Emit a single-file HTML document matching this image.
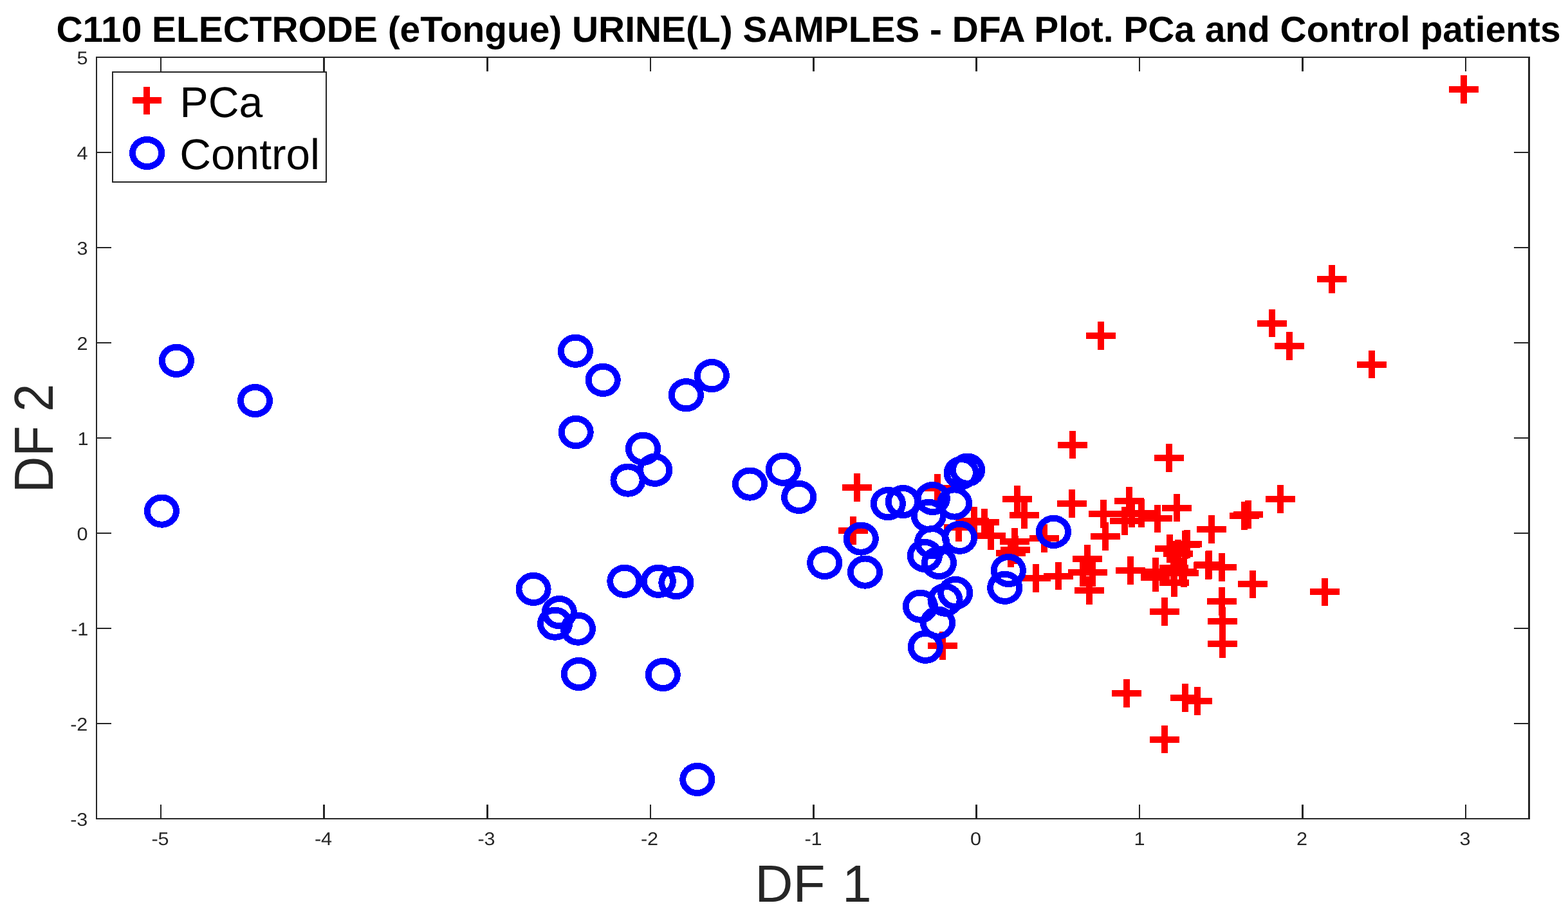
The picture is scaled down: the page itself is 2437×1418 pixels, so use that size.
<!DOCTYPE html>
<html lang="en"><head><meta charset="utf-8"><title>C110 ELECTRODE (eTongue) URINE(L) SAMPLES - DFA Plot</title>
<style>
html,body{margin:0;padding:0;background:#fff;}
body{width:2437px;height:1418px;overflow:hidden;}
svg{display:block;}
text{font-family:"Liberation Sans",Arial,Helvetica,sans-serif;text-rendering:geometricPrecision;}
.tk{font-size:28.6px;fill:#262626;}
.ttl{font-size:56.4px;font-weight:bold;fill:#000;}
.lab{font-size:81.25px;fill:#262626;}
.leg{font-size:66.9px;fill:#000;}
.pl{fill:#ff0000;}
.ci{fill:none;stroke:#0000ff;stroke-width:9.9;}
.ax{fill:#262626;}
</style></head><body>
<svg width="2437" height="1418" viewBox="0 0 2437 1418">
<rect x="0" y="0" width="2437" height="1418" fill="#fff"/>
<text class="ttl" transform="translate(87.5 64.8) scale(1.0085 1)">C110 ELECTRODE (eTongue) URINE(L) SAMPLES - DFA Plot. PCa and Control patients</text>
<g class="ax" shape-rendering="crispEdges">
<rect x="149" y="88" width="2229" height="2"/>
<rect x="149" y="1272" width="2229" height="2"/>
<rect x="149" y="88" width="2" height="1186"/>
<rect x="2375" y="88" width="3" height="1186"/>
<rect x="249" y="90" width="2" height="21"/><rect x="249" y="1251" width="2" height="21"/>
<rect x="502" y="90" width="3" height="21"/><rect x="502" y="1251" width="3" height="21"/>
<rect x="756" y="90" width="3" height="21"/><rect x="756" y="1251" width="3" height="21"/>
<rect x="1010" y="90" width="2" height="21"/><rect x="1010" y="1251" width="2" height="21"/>
<rect x="1263" y="90" width="3" height="21"/><rect x="1263" y="1251" width="3" height="21"/>
<rect x="1516" y="90" width="3" height="21"/><rect x="1516" y="1251" width="3" height="21"/>
<rect x="1770" y="90" width="2" height="21"/><rect x="1770" y="1251" width="2" height="21"/>
<rect x="2023" y="90" width="3" height="21"/><rect x="2023" y="1251" width="3" height="21"/>
<rect x="2277" y="90" width="2" height="21"/><rect x="2277" y="1251" width="2" height="21"/>
<rect x="151" y="1124" width="22" height="2"/><rect x="2353" y="1124" width="22" height="2"/>
<rect x="151" y="976" width="22" height="2"/><rect x="2353" y="976" width="22" height="2"/>
<rect x="151" y="828" width="22" height="2"/><rect x="2353" y="828" width="22" height="2"/>
<rect x="151" y="680" width="22" height="2"/><rect x="2353" y="680" width="22" height="2"/>
<rect x="151" y="532" width="22" height="2"/><rect x="2353" y="532" width="22" height="2"/>
<rect x="151" y="384" width="22" height="2"/><rect x="2353" y="384" width="22" height="2"/>
<rect x="151" y="236" width="22" height="2"/><rect x="2353" y="236" width="22" height="2"/>
</g>
<g class="pl" shape-rendering="crispEdges">
<path d="M2252 134h46v10h-46zM2270 117h10v44h-10z"/>
<path d="M2047 429h46v10h-46zM2065 412h10v44h-10z"/>
<path d="M1954 498h46v10h-46zM1972 481h10v43h-10z"/>
<path d="M1981 533h46v10h-46zM1999 516h10v44h-10z"/>
<path d="M2109 562h46v10h-46zM2127 545h10v43h-10z"/>
<path d="M1688 517h46v10h-46zM1706 500h10v44h-10z"/>
<path d="M1644 687h46v10h-46zM1662 670h10v43h-10z"/>
<path d="M1794 707h46v10h-46zM1812 690h10v44h-10z"/>
<path d="M1309 753h46v10h-46zM1327 736h10v44h-10z"/>
<path d="M1303 820h46v10h-46zM1321 803h10v44h-10z"/>
<path d="M1434 754h46v10h-46zM1452 737h10v44h-10z"/>
<path d="M1558 771h46v10h-46zM1576 755h10v43h-10z"/>
<path d="M1569 796h46v10h-46zM1587 779h10v43h-10z"/>
<path d="M1643 778h46v10h-46zM1661 761h10v44h-10z"/>
<path d="M1491 805h46v10h-46zM1509 788h10v44h-10z"/>
<path d="M1507 807h46v10h-46zM1525 791h10v43h-10z"/>
<path d="M1467 815h46v10h-46zM1485 799h10v43h-10z"/>
<path d="M1517 828h46v10h-46zM1535 811h10v44h-10z"/>
<path d="M1554 837h46v10h-46zM1572 821h10v43h-10z"/>
<path d="M1555 850h46v10h-46zM1573 833h10v44h-10z"/>
<path d="M1548 855h46v10h-46zM1566 838h10v44h-10z"/>
<path d="M1600 832h46v10h-46zM1618 815h10v44h-10z"/>
<path d="M1442 999h46v10h-46zM1460 982h10v44h-10z"/>
<path d="M1587 894h46v10h-46zM1605 877h10v44h-10z"/>
<path d="M1622 891h46v10h-46zM1640 874h10v43h-10z"/>
<path d="M1692 794h46v10h-46zM1710 777h10v44h-10z"/>
<path d="M1732 774h46v10h-46zM1750 757h10v44h-10z"/>
<path d="M1751 793h46v10h-46zM1769 776h10v44h-10z"/>
<path d="M1736 794h46v10h-46zM1754 777h10v43h-10z"/>
<path d="M1725 805h46v10h-46zM1743 788h10v44h-10z"/>
<path d="M1776 801h46v10h-46zM1794 785h10v43h-10z"/>
<path d="M1806 785h46v10h-46zM1824 768h10v43h-10z"/>
<path d="M1695 829h46v10h-46zM1713 812h10v44h-10z"/>
<path d="M1860 818h46v10h-46zM1878 801h10v44h-10z"/>
<path d="M1911 797h46v10h-46zM1929 780h10v44h-10z"/>
<path d="M1917 795h46v10h-46zM1935 778h10v44h-10z"/>
<path d="M1967 771h46v10h-46zM1985 754h10v44h-10z"/>
<path d="M1667 864h46v10h-46zM1685 847h10v44h-10z"/>
<path d="M1660 885h46v10h-46zM1678 868h10v44h-10z"/>
<path d="M1676 885h45v10h-45zM1693 868h10v44h-10z"/>
<path d="M1670 913h46v10h-46zM1688 896h10v44h-10z"/>
<path d="M1734 882h46v10h-46zM1752 865h10v44h-10z"/>
<path d="M1773 884h46v10h-46zM1791 867h10v44h-10z"/>
<path d="M1773 893h45v10h-45zM1791 876h10v44h-10z"/>
<path d="M1795 848h46v10h-46zM1813 831h10v44h-10z"/>
<path d="M1823 841h45v10h-45zM1840 824h10v44h-10z"/>
<path d="M1820 842h45v10h-45zM1837 825h10v44h-10z"/>
<path d="M1808 856h46v10h-46zM1826 839h10v44h-10z"/>
<path d="M1802 878h45v10h-45zM1819 861h10v44h-10z"/>
<path d="M1814 884h46v10h-46zM1832 867h10v44h-10z"/>
<path d="M1817 886h46v10h-46zM1835 869h10v44h-10z"/>
<path d="M1802 901h46v10h-46zM1820 884h10v44h-10z"/>
<path d="M1855 874h46v10h-46zM1873 857h10v44h-10z"/>
<path d="M1856 873h46v10h-46zM1874 856h10v44h-10z"/>
<path d="M1876 877h46v10h-46zM1894 860h10v44h-10z"/>
<path d="M1924 903h46v10h-46zM1942 887h10v43h-10z"/>
<path d="M1876 930h46v10h-46zM1894 913h10v44h-10z"/>
<path d="M1877 961h46v10h-46zM1895 944h10v44h-10z"/>
<path d="M1877 996h46v10h-46zM1895 979h10v44h-10z"/>
<path d="M1787 946h46v10h-46zM1805 929h10v44h-10z"/>
<path d="M2036 915h46v10h-46zM2054 899h10v43h-10z"/>
<path d="M1728 1073h46v10h-46zM1746 1056h10v44h-10z"/>
<path d="M1819 1080h46v10h-46zM1837 1063h10v44h-10z"/>
<path d="M1838 1085h46v10h-46zM1856 1068h10v44h-10z"/>
<path d="M1787 1145h46v10h-46zM1805 1128h10v43h-10z"/>
</g>
<g class="ci" shape-rendering="crispEdges">
<ellipse cx="274.4" cy="560.9" rx="22.6" ry="21.1"/>
<ellipse cx="396.5" cy="623.0" rx="22.6" ry="21.1"/>
<ellipse cx="251.4" cy="794.6" rx="22.6" ry="21.1"/>
<ellipse cx="894.4" cy="545.8" rx="22.6" ry="21.1"/>
<ellipse cx="937.2" cy="590.9" rx="22.6" ry="21.1"/>
<ellipse cx="1106.4" cy="584.1" rx="22.6" ry="21.1"/>
<ellipse cx="1066.4" cy="614.2" rx="22.6" ry="21.1"/>
<ellipse cx="895.2" cy="672.0" rx="22.6" ry="21.1"/>
<ellipse cx="999.5" cy="697.8" rx="22.6" ry="21.1"/>
<ellipse cx="1017.8" cy="730.8" rx="22.6" ry="21.1"/>
<ellipse cx="976.0" cy="746.6" rx="22.6" ry="21.1"/>
<ellipse cx="1165.5" cy="752.6" rx="22.6" ry="21.1"/>
<ellipse cx="1217.3" cy="729.8" rx="22.6" ry="21.1"/>
<ellipse cx="1241.6" cy="772.9" rx="22.6" ry="21.1"/>
<ellipse cx="829.1" cy="915.9" rx="22.6" ry="21.1"/>
<ellipse cx="869.4" cy="952.1" rx="22.6" ry="21.1"/>
<ellipse cx="862.6" cy="969.7" rx="22.6" ry="21.1"/>
<ellipse cx="898.4" cy="977.7" rx="22.6" ry="21.1"/>
<ellipse cx="970.8" cy="903.8" rx="22.6" ry="21.1"/>
<ellipse cx="1023.3" cy="903.8" rx="22.6" ry="21.1"/>
<ellipse cx="1050.9" cy="906.0" rx="22.6" ry="21.1"/>
<ellipse cx="899.4" cy="1048.0" rx="22.6" ry="21.1"/>
<ellipse cx="1030.3" cy="1049.0" rx="22.6" ry="21.1"/>
<ellipse cx="1281.7" cy="875.0" rx="22.6" ry="21.1"/>
<ellipse cx="1344.5" cy="889.6" rx="22.6" ry="21.1"/>
<ellipse cx="1338.3" cy="837.6" rx="22.6" ry="21.1"/>
<ellipse cx="1083.8" cy="1211.9" rx="22.6" ry="21.1"/>
<ellipse cx="1380.4" cy="783.1" rx="22.6" ry="21.1"/>
<ellipse cx="1403.4" cy="780.0" rx="22.6" ry="21.1"/>
<ellipse cx="1449.4" cy="775.0" rx="22.6" ry="21.1"/>
<ellipse cx="1494.2" cy="735.2" rx="22.6" ry="21.1"/>
<ellipse cx="1503.6" cy="730.6" rx="22.6" ry="21.1"/>
<ellipse cx="1483.6" cy="782.5" rx="22.6" ry="21.1"/>
<ellipse cx="1443.3" cy="801.8" rx="22.6" ry="21.1"/>
<ellipse cx="1491.6" cy="835.8" rx="22.6" ry="21.1"/>
<ellipse cx="1448.5" cy="843.2" rx="22.6" ry="21.1"/>
<ellipse cx="1437.4" cy="864.0" rx="22.6" ry="21.1"/>
<ellipse cx="1459.5" cy="875.0" rx="22.6" ry="21.1"/>
<ellipse cx="1637.5" cy="826.9" rx="22.6" ry="21.1"/>
<ellipse cx="1567.4" cy="887.0" rx="22.6" ry="21.1"/>
<ellipse cx="1561.7" cy="913.8" rx="22.6" ry="21.1"/>
<ellipse cx="1484.8" cy="921.9" rx="22.6" ry="21.1"/>
<ellipse cx="1469.0" cy="932.7" rx="22.6" ry="21.1"/>
<ellipse cx="1430.4" cy="942.7" rx="22.6" ry="21.1"/>
<ellipse cx="1457.5" cy="968.5" rx="22.6" ry="21.1"/>
<ellipse cx="1438.3" cy="1005.8" rx="22.6" ry="21.1"/>
</g>
<text class="tk" transform="translate(249.0 1314) scale(1.07 1)" text-anchor="middle">-5</text>
<text class="tk" transform="translate(502.5 1314) scale(1.07 1)" text-anchor="middle">-4</text>
<text class="tk" transform="translate(756.0 1314) scale(1.07 1)" text-anchor="middle">-3</text>
<text class="tk" transform="translate(1009.5 1314) scale(1.07 1)" text-anchor="middle">-2</text>
<text class="tk" transform="translate(1264.0 1314) scale(1.07 1)" text-anchor="middle">-1</text>
<text class="tk" transform="translate(1516.5 1314) scale(1.07 1)" text-anchor="middle">0</text>
<text class="tk" transform="translate(1771.0 1314) scale(1.07 1)" text-anchor="middle">1</text>
<text class="tk" transform="translate(2023.5 1314) scale(1.07 1)" text-anchor="middle">2</text>
<text class="tk" transform="translate(2277.0 1314) scale(1.07 1)" text-anchor="middle">3</text>
<text class="tk" transform="translate(136.4 1284) scale(1.07 1)" text-anchor="end">-3</text>
<text class="tk" transform="translate(136.4 1136) scale(1.07 1)" text-anchor="end">-2</text>
<text class="tk" transform="translate(137.4 988) scale(1.07 1)" text-anchor="end">-1</text>
<text class="tk" transform="translate(136.4 840) scale(1.07 1)" text-anchor="end">0</text>
<text class="tk" transform="translate(137.4 692) scale(1.07 1)" text-anchor="end">1</text>
<text class="tk" transform="translate(136.4 544) scale(1.07 1)" text-anchor="end">2</text>
<text class="tk" transform="translate(136.4 396) scale(1.07 1)" text-anchor="end">3</text>
<text class="tk" transform="translate(136.4 248) scale(1.07 1)" text-anchor="end">4</text>
<text class="tk" transform="translate(136.4 100) scale(1.07 1)" text-anchor="end">5</text>
<text class="lab" transform="translate(1173.2 1401.9) scale(1.01 1)">DF <tspan dx="3.5">1</tspan></text>
<text class="lab" transform="translate(81.95 766.2) rotate(-90) scale(0.962 1.0534)">DF 2</text>
<g shape-rendering="crispEdges">
<rect x="174" y="111" width="334" height="173" fill="#262626"/>
<rect x="176" y="113" width="330" height="168.5" fill="#fff"/>
<path class="pl" d="M206 151h45v10h-45zM223 135h10v43h-10z"/>
<ellipse class="ci" cx="228.6" cy="238" rx="22.6" ry="21.1"/>
</g>
<text class="leg" transform="translate(279.6 182.05) scale(0.988 1)">PCa</text>
<text class="leg" transform="translate(279.3 263) scale(1.0093 1)">Control</text>
</svg>
</body></html>
